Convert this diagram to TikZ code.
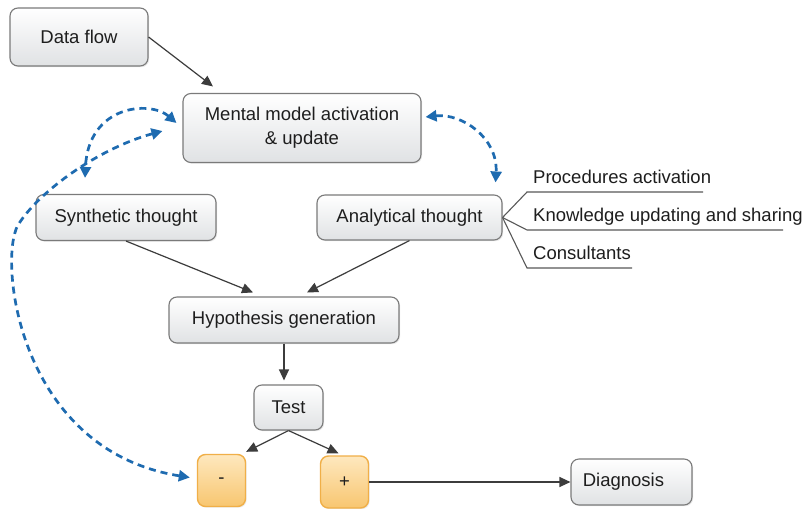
\documentclass[tikz,border=0pt]{standalone}
\usepackage{fontspec}
\setmainfont{Liberation Sans}
\usetikzlibrary{arrows.meta,shadows}
\definecolor{dblue}{HTML}{1E6BB0}
\definecolor{agray}{HTML}{3C3C3C}
\definecolor{bgray}{HTML}{7A7A7A}
\definecolor{ltop}{HTML}{FFFFFF}
\definecolor{lbot}{HTML}{E0E2E4}
\definecolor{otop}{HTML}{FEE8BE}
\definecolor{obot}{HTML}{F8C670}
\definecolor{obord}{HTML}{F0AF48}
\definecolor{txt}{HTML}{1E1E1E}
\begin{document}
\begin{tikzpicture}[x=1pt,y=-1pt,
  font=\fontsize{18.5pt}{24pt}\selectfont, text=txt,
  gbox/.style={draw=bgray, line width=1.1pt, rounded corners=8pt,
    top color=ltop, bottom color=lbot, inner sep=0pt, align=center,
    drop shadow={opacity=0.18, shadow xshift=1.2pt, shadow yshift=-1.2pt}},
  obox/.style={draw=obord, line width=1.4pt, rounded corners=8pt,
    top color=otop, bottom color=obot, inner sep=0pt,
    minimum width=48pt, minimum height=52pt,
    drop shadow={opacity=0.15, shadow xshift=1.2pt, shadow yshift=-1.2pt}},
  garrow/.style={draw=agray, line width=1.2pt, -{Triangle[length=11pt,width=10pt]}},
  bdash/.style={draw=dblue, line width=2.7pt, dash pattern=on 7pt off 5pt,
    {Triangle[length=11pt,width=11pt]}-{Triangle[length=11pt,width=11pt]}},
  lbl/.style={inner xsep=6pt, inner ysep=0pt, text depth=8pt, anchor=south west},
  branch/.style={draw=agray!85, line width=1.1pt}]
\fill[white] (0,0) rectangle (804,509);
\useasboundingbox (0,0) rectangle (804,509);

% boxes
\node[gbox, minimum width=138pt, minimum height=58pt] (df) at (79,37) {Data flow};
\node[gbox, minimum width=238pt, minimum height=69pt] (mm) at (302,128) {Mental model activation\\\& update};
\node[gbox, minimum width=180pt, minimum height=46pt] (st) at (126,217.5) {Synthetic thought};
\node[gbox, minimum width=185pt, minimum height=45pt] (an) at (409.5,217.5) {Analytical thought};
\node[gbox, minimum width=230pt, minimum height=46pt] (hg) at (284,320) {Hypothesis generation};
\node[gbox, minimum width=69pt, minimum height=45pt] (te) at (288.5,407.5) {Test};
\node[obox] (mi) at (221.5,480.5) {-};
\node[obox] (pl) at (344.5,482) {+};
\node[gbox, minimum width=121pt, minimum height=46pt] (dg) at (631.5,482) {\hspace*{-16pt}Diagnosis};

% labels of analytical thought
\node[lbl] (p1) at (527,192) {Procedures activation};
\node[lbl] (p2) at (527,230) {Knowledge updating and sharing};
\node[lbl] (p3) at (527,268) {Consultants};
\draw[branch] (an.east) -- (p1.south west) -- ++(176,0);
\draw[branch] (an.east) -- (p2.south west) -- ++(256,0);
\draw[branch] (an.east) -- (p3.south west) -- ++(105,0);

% solid arrows
\draw[garrow] (df.east) -- ([shift={(-89,-6.5)}]mm.north);
\draw[garrow] (st.south) -- ([shift={(-31,-4)}]hg.north);
\draw[garrow] (an.south) -- ([shift={(23,-4)}]hg.north);
\draw[garrow, shorten >=4pt] (hg.south) -- (hg.south |- te.north);
\draw[garrow] (te.south) -- ([shift={(0,-2)}]mi.north east);
\draw[garrow] (te.south) -- ([shift={(-6,-2)}]pl.north);
\draw[garrow] (pl.east) -- (dg.west);

% dashed blue feedback arrows
\draw[bdash] ([shift={(4,-11)}]mm.east) .. controls (462,113) and (498,138) .. ([shift={(-7,-12)}]an.north east);
\draw[bdash] ([shift={(-6,-5)}]mm.west) .. controls (150,100) and (88,105) .. ([shift={(-41,-16)}]st.north);
\draw[bdash] ([shift={(-20,3)}]mm.west) .. controls (100,148) and (40,190) .. (18,225)
  .. controls (-2,260) and (18,450) .. ([shift={(-7,-3)}]mi.west);
\end{tikzpicture}
\end{document}
